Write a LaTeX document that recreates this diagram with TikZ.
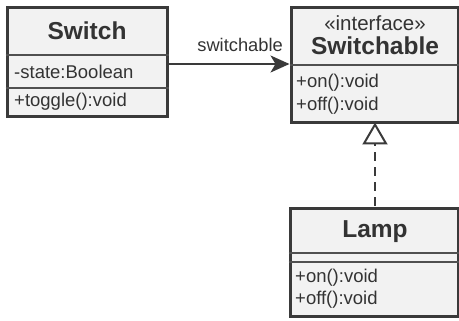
\documentclass[tikz,border=0pt]{standalone}
\usepackage{fontspec}
\setmainfont{Liberation Sans}
\usetikzlibrary{arrows.meta}
\definecolor{bordc}{HTML}{3A3A3A}
\definecolor{boxfill}{HTML}{F2F2F2}
\definecolor{txtc}{HTML}{333333}
\definecolor{sepc}{HTML}{505050}
\tikzset{
  umlbox/.style={draw=bordc, fill=boxfill, line width=3pt, rectangle, anchor=north west, inner sep=0pt},
  sepline/.style={draw=sepc, line width=2pt},
  titletext/.style={text=txtc, font=\fontsize{24.5}{26}\selectfont\bfseries, inner sep=0pt, anchor=base},
  stereotext/.style={text=txtc, font=\fontsize{20.5}{22}\selectfont, inner sep=0pt, anchor=base},
  membertext/.style={text=txtc, font=\fontsize{18.5}{20}\selectfont, inner sep=0pt, anchor=base west},
  lbltext/.style={text=txtc, font=\fontsize{18.3}{20}\selectfont, inner sep=0pt, anchor=base east},
  assoc/.style={draw=bordc, line width=2pt, -{Stealth[length=19pt,width=17pt,inset=5pt]}},
  realize/.style={draw=bordc, line width=2pt, dash pattern=on 9pt off 6pt, -{Triangle[open,length=22pt,width=25pt,fill=white,line width=2pt]}}
}
\begin{document}
\begin{tikzpicture}[x=1pt,y=-1pt]
\useasboundingbox (0,0) rectangle (459,321);
% boxes
\node[umlbox, minimum width=160pt, minimum height=109pt] (switch) at (5.5,6.5) {};
\node[umlbox, minimum width=167pt, minimum height=115pt] (switchable) at (289.5,6.5) {};
\node[umlbox, minimum width=168pt, minimum height=108pt] (lamp) at (288.5,207.5) {};
% separators
\draw[sepline] (switch.west |- 0,55) -- (switch.east |- 0,55);
\draw[sepline] (switch.west |- 0,88) -- (switch.east |- 0,88);
\draw[sepline] (switchable.west |- 0,65) -- (switchable.east |- 0,65);
\draw[sepline] (lamp.west |- 0,253) -- (lamp.east |- 0,253);
\draw[sepline] (lamp.west |- 0,262) -- (lamp.east |- 0,262);
% Switch texts
\node[titletext] (switchtitle) at (87,40) {Switch};
\node[membertext] (swattr) at (14,79) {-state:Boolean};
\node[membertext] (swop) at (14,107) {+toggle():void};
% Switchable texts
\node[stereotext] (stereo) at (375,31) {«interface»};
\node[titletext] (switchabletitle) at (375,55) {Switchable};
\node[membertext] (ifon) at (296,88) {+on():void};
\node[membertext] (ifoff) at (296,111) {+off():void};
% Lamp texts
\node[titletext] (lamptitle) at (375,238) {Lamp};
\node[membertext] (lampon) at (295,283) {+on():void};
\node[membertext] (lampoff) at (295,305) {+off():void};
% connectors
\draw[assoc] (switch.east |- 0,64) -- (switchable.west |- 0,64);
\node[lbltext] (assoclbl) at (283,52) {switchable};
\coordinate (rtop) at (375,122.5);
\coordinate (rbot) at (375,206);
\draw[realize] (rbot) -- (rtop);
\end{tikzpicture}
\end{document}
